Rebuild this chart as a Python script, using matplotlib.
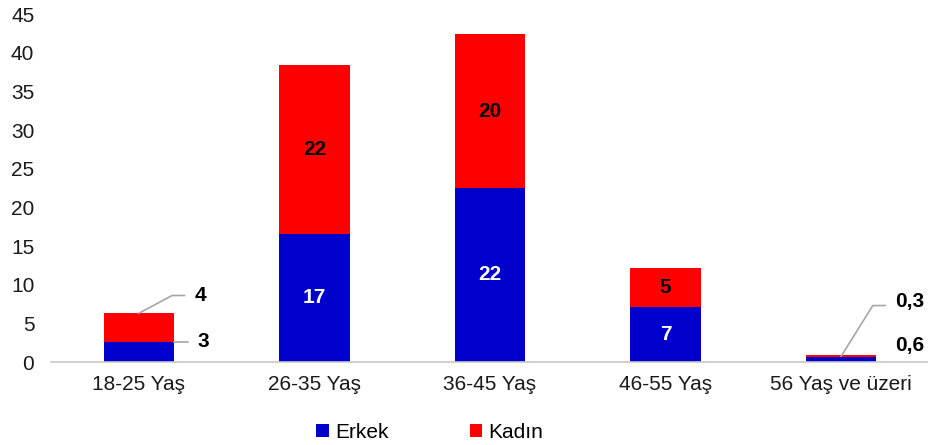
import matplotlib
matplotlib.use("Agg")
import matplotlib.pyplot as plt
import numpy as np

categories = ["18-25 Yaş", "26-35 Yaş", "36-45 Yaş", "46-55 Yaş", "56 Yaş ve üzeri"]
erkek = [2.6, 16.6, 22.5, 7.1, 0.6]
kadin = [3.7, 21.8, 19.9, 5.1, 0.3]
series_names = ["Erkek", "Kadın"]
yticks = [0, 5, 10, 15, 20, 25, 30, 35, 40, 45]

BLUE = "#0000CC"
RED = "#FF0000"

def fmt(v):
    if v < 1:
        return f"{v:.1f}".replace(".", ",")
    return f"{int(round(v))}"

plt.rcParams['font.family'] = ['Liberation Sans', 'DejaVu Sans']

fig = plt.figure(figsize=(9.29, 4.45), dpi=100)
ax = fig.add_axes([51/929, 1-362/445, (929-51)/929, (362-14)/445])

x = np.arange(len(categories))
w = 0.40
ax.bar(x, erkek, w, color=BLUE, label=series_names[0])
ax.bar(x, kadin, w, bottom=erkek, color=RED, label=series_names[1])

ax.set_xlim(-0.5, len(categories) - 0.5)
ax.set_ylim(0, 45)
ax.set_yticks(yticks)
ax.set_xticks(x)
ax.set_xticklabels(categories)
ax.tick_params(axis='both', length=0, labelsize=15, colors='#1a1a1a')
ax.tick_params(axis='x', pad=9)
ax.tick_params(axis='y', pad=12)
for s in ['top', 'right', 'left']:
    ax.spines[s].set_visible(False)
ax.spines['bottom'].set_color('#c8c8c8')
ax.spines['bottom'].set_linewidth(1.2)

lab_kw = dict(fontsize=15, fontweight='bold', ha='center', va='center')
leader = dict(color='#a6a6a6', lw=1.2)

for i in range(len(categories)):
    e, k = erkek[i], kadin[i]
    if e + k > 10:
        ax.text(x[i], e / 2, fmt(e), color='white', **lab_kw)
        ax.text(x[i], e + k / 2, fmt(k), color='black', **lab_kw)

# small first category: callouts
i = 0
e, k = erkek[i], kadin[i]
ax.plot([x[i] + w/2, x[i] + w/2 + 0.08], [e, e], **leader)
ax.text(x[i] + w/2 + 0.17, e, fmt(e), color='black', **lab_kw)
ax.plot([x[i], x[i] + 0.19, x[i] + 0.26], [e + k, e + k + 2.3, e + k + 2.3], **leader)
ax.text(x[i] + 0.35, e + k + 2.3, fmt(k), color='black', **lab_kw)

# last category: callouts
i = 4
e, k = erkek[i], kadin[i]
ax.text(x[i] + 0.39, e + 1.5, fmt(e), color='black', **lab_kw)
ax.plot([x[i], x[i] + 0.18, x[i] + 0.25], [e + k / 2, e + k + 6.4, e + k + 6.4], **leader)
ax.text(x[i] + 0.39, e + k + 6.9, fmt(k), color='black', **lab_kw)

fig.legend(*ax.get_legend_handles_labels(), loc='center', bbox_to_anchor=(430/929, 1-432/445),
           ncol=2, frameon=False, fontsize=15, handlelength=0.6, handleheight=0.6,
           handletextpad=0.3, columnspacing=3.9)

fig.savefig("out.png", dpi=100)
